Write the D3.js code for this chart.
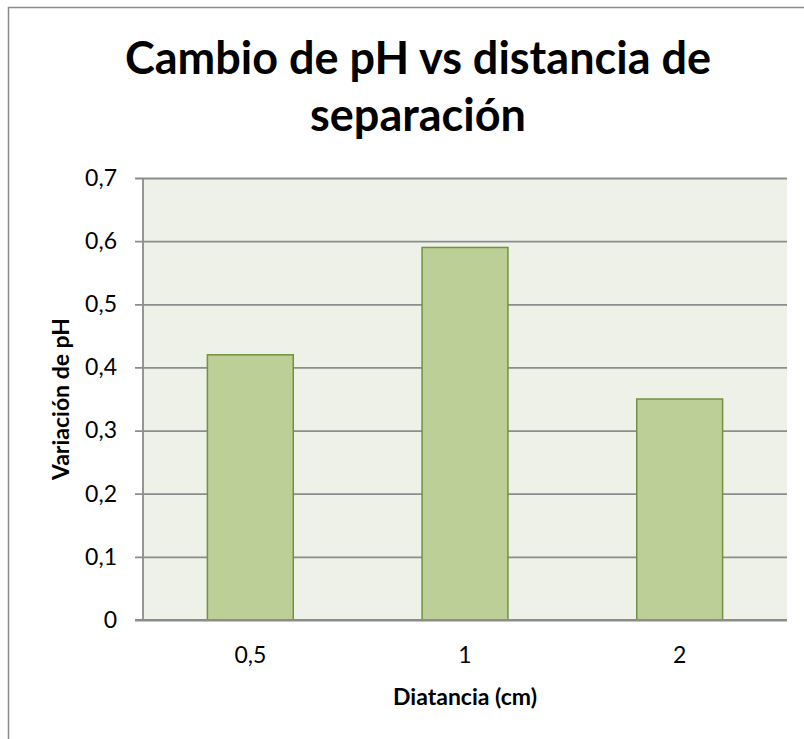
<!DOCTYPE html>
<html>
<head>
<meta charset="utf-8">
<script src="https://cdn.jsdelivr.net/npm/d3@7/dist/d3.min.js"></script>
<style>
  body { margin: 0; background: #fff; }
  svg { display: block; }
</style>
</head>
<body>
<svg id="canvas" width="804" height="739"></svg>
<script>
var categories = ["0,5", "1", "2"];
var values = [0.42, 0.59, 0.35];
var yTicks = [0, 0.1, 0.2, 0.3, 0.4, 0.5, 0.6, 0.7];
var titleLines = ["Cambio de pH vs distancia de", "separación"];
var xTitle = "Diatancia (cm)";
var yTitle = "Variación de pH";

var svg = d3.select("#canvas");
var font = "Lato, 'Open Sans', sans-serif";

var plot = { left: 143, right: 787, top: 178, bottom: 620 };

var x = d3.scaleBand()
	.domain(categories)
	.range([plot.left, plot.right])
	.paddingInner(0.6)
	.paddingOuter(0.3);

var y = d3.scaleLinear()
	.domain([0, 0.7])
	.range([plot.bottom, plot.top]);

// chart frame
svg.append("rect")
	.attr("x", 8.5).attr("y", 7.5)
	.attr("width", 830).attr("height", 760)
	.attr("fill", "#fff")
	.attr("stroke", "#8a8a8a")
	.attr("stroke-width", 1.5);

// plot background
svg.append("rect")
	.attr("x", plot.left).attr("y", plot.top)
	.attr("width", plot.right - plot.left)
	.attr("height", plot.bottom - plot.top)
	.attr("fill", "#eef1e8");

// y axis with gridlines
var yAxis = svg.append("g")
	.attr("transform", "translate(" + plot.left + ",0)")
	.call(d3.axisLeft(y)
		.tickValues(yTicks)
		.tickSize(-(plot.right - plot.left))
		.tickPadding(26)
		.tickFormat(function(d) { return d === 0 ? "0" : d3.format(".1f")(d).replace(".", ","); }));

yAxis.select(".domain").remove();
yAxis.selectAll(".tick line")
	.attr("x1", -8)
	.attr("stroke", "#8c8c8c")
	.attr("stroke-width", 1.8);
yAxis.selectAll(".tick text")
	.attr("font-family", font)
	.attr("font-size", 23)
	.attr("fill", "#000");

svg.append("line")
	.attr("x1", plot.left).attr("x2", plot.left)
	.attr("y1", plot.top).attr("y2", plot.bottom)
	.attr("stroke", "#8c8c8c")
	.attr("stroke-width", 1.8);

// bars
svg.append("g").selectAll("rect")
	.data(values)
	.enter().append("rect")
	.attr("x", function(d, i) { return x(categories[i]); })
	.attr("y", function(d) { return y(d); })
	.attr("width", x.bandwidth())
	.attr("height", function(d) { return y(0) - y(d); })
	.attr("fill", "#bbcf96")
	.attr("stroke", "#71923e")
	.attr("stroke-width", 1.5);

// x axis
var xAxis = svg.append("g")
	.attr("transform", "translate(0," + plot.bottom + ")")
	.call(d3.axisBottom(x).tickSize(0).tickPadding(27));

xAxis.select(".domain")
	.attr("d", "M" + (plot.left - 8) + ",0H" + plot.right)
	.attr("stroke", "#8c8c8c")
	.attr("stroke-width", 1.8);
xAxis.selectAll(".tick text")
	.attr("font-family", font)
	.attr("font-size", 23)
	.attr("fill", "#000");

// titles
svg.append("g").selectAll("text")
	.data(titleLines)
	.enter().append("text")
	.attr("x", 418)
	.attr("y", function(d, i) { return 74 + i * 57; })
	.attr("text-anchor", "middle")
	.attr("font-family", font)
	.attr("font-weight", "bold")
	.attr("font-size", 45)
	.text(function(d) { return d; });

svg.append("text")
	.attr("x", (plot.left + plot.right) / 2)
	.attr("y", 705)
	.attr("text-anchor", "middle")
	.attr("font-family", font)
	.attr("font-weight", "bold")
	.attr("font-size", 23)
	.text(xTitle);

svg.append("text")
	.attr("transform", "translate(69," + (plot.top + plot.bottom) / 2 + ") rotate(-90)")
	.attr("text-anchor", "middle")
	.attr("font-family", font)
	.attr("font-weight", "bold")
	.attr("font-size", 23)
	.text(yTitle);
</script>
</body>
</html>
